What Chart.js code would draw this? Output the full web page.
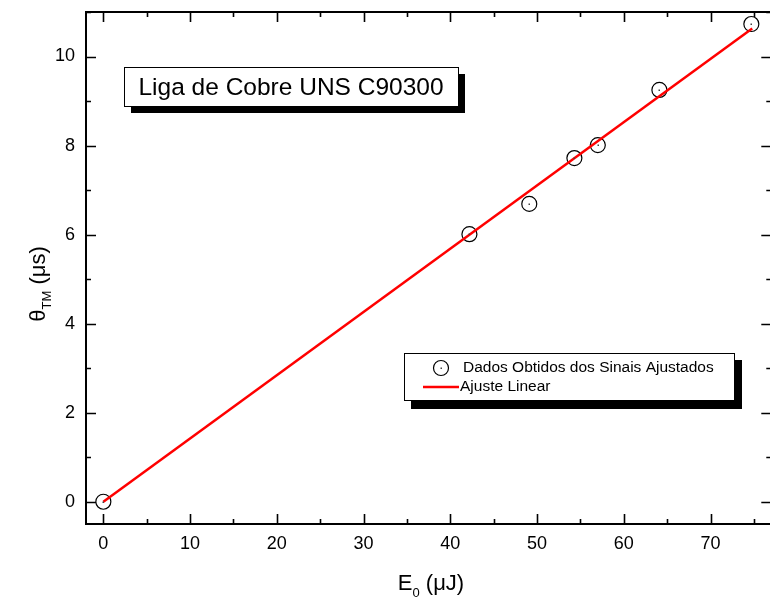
<!DOCTYPE html>
<html>
<head>
<meta charset="utf-8">
<script src="https://cdn.jsdelivr.net/npm/chart.js@4.4.0/dist/chart.umd.min.js"></script>
<style>
  html, body { margin: 0; padding: 0; background: #fff; overflow: hidden; }
  #box { width: 780px; height: 599px; }
</style>
</head>
<body>
<div id="box"><canvas id="grafico" width="780" height="599"></canvas></div>
<script>
// dados
const energia = [0, 42.2, 49.1, 54.3, 57.0, 64.1, 74.7];
const tempo = [0, 6.01, 6.69, 7.72, 8.01, 9.25, 10.73];
const ajusteX = [0, 74.8];
const ajusteY = [0, 10.63];
const ticksX = [0, 10, 20, 30, 40, 50, 60, 70];
const ticksY = [0, 2, 4, 6, 8, 10];
const minorX = [5, 15, 25, 35, 45, 55, 65, 75];
const minorY = [1, 3, 5, 7, 9, 11];

const tituloCaixa = "Liga de Cobre UNS C90300";
const fonte = "'Liberation Sans', Arial, sans-serif";

// desenha ticks para dentro, moldura, caixas e titulos dos eixos
const extras = {
  id: "extras",
  beforeDraw(chart) {
    const ctx = chart.ctx;
    ctx.save();
    ctx.fillStyle = "#fff";
    ctx.fillRect(0, 0, chart.width, chart.height);
    ctx.restore();
  },
  afterDraw(chart) {
    const ctx = chart.ctx;
    const a = chart.chartArea;
    const sx = chart.scales.x, sy = chart.scales.y;
    ctx.save();
    ctx.strokeStyle = "#000";
    ctx.lineWidth = 2;
    ctx.beginPath();
    ctx.moveTo(a.left, a.top); ctx.lineTo(a.right, a.top);
    ctx.moveTo(a.right, a.top); ctx.lineTo(a.right, a.bottom);
    ctx.stroke();

    ctx.lineWidth = 1.6;
    ctx.beginPath();
    const tickX = (v, len) => {
      const p = Math.round(sx.getPixelForValue(v)) + 0.5;
      ctx.moveTo(p, a.bottom); ctx.lineTo(p, a.bottom - len);
      ctx.moveTo(p, a.top); ctx.lineTo(p, a.top + len);
    };
    const tickY = (v, len) => {
      const p = Math.round(sy.getPixelForValue(v)) + 0.5;
      ctx.moveTo(a.left, p); ctx.lineTo(a.left + len, p);
      ctx.moveTo(a.right, p); ctx.lineTo(a.right - len, p);
    };
    ticksX.forEach(v => tickX(v, 10));
    minorX.forEach(v => tickX(v, 5));
    ticksY.forEach(v => tickY(v, 10));
    minorY.forEach(v => tickY(v, 5));
    ctx.stroke();

    // ponto central dos circulos
    const meta = chart.getDatasetMeta(1);
    ctx.fillStyle = "#444";
    meta.data.forEach(pt => {
      ctx.fillRect(Math.round(pt.x) - 0.5, Math.round(pt.y) - 0.5, 1.5, 1.5);
    });

    // caixa do titulo
    ctx.fillStyle = "#000";
    ctx.fillRect(131, 74, 334, 39);
    ctx.fillStyle = "#fff";
    ctx.fillRect(124, 67, 334, 39);
    ctx.lineWidth = 1;
    ctx.strokeStyle = "#000";
    ctx.strokeRect(124.5, 67.5, 334, 39);
    ctx.fillStyle = "#000";
    ctx.font = "24.5px " + fonte;
    ctx.textAlign = "center";
    ctx.textBaseline = "middle";
    ctx.fillText(tituloCaixa, 291, 88);

    // legenda
    ctx.fillRect(411, 360, 331, 49);
    ctx.fillStyle = "#fff";
    ctx.fillRect(404, 353, 331, 48);
    ctx.strokeRect(404.5, 353.5, 330, 47);
    const dsPontos = chart.data.datasets[1];
    const dsLinha = chart.data.datasets[0];
    ctx.strokeStyle = "#000";
    ctx.lineWidth = 1.2;
    ctx.beginPath();
    ctx.arc(441, 368, 7.5, 0, Math.PI * 2);
    ctx.stroke();
    ctx.fillStyle = "#444";
    ctx.fillRect(440.5, 367.5, 1.5, 1.5);
    ctx.strokeStyle = dsLinha.borderColor;
    ctx.lineWidth = 2.5;
    ctx.beginPath();
    ctx.moveTo(423, 387); ctx.lineTo(459, 387);
    ctx.stroke();
    ctx.fillStyle = "#000";
    ctx.font = "15.5px " + fonte;
    ctx.textAlign = "left";
    ctx.fillText(dsPontos.label, 463, 368);
    ctx.fillText(dsLinha.label, 460, 387);

    // titulo eixo x: E0 (uJ)
    ctx.textBaseline = "alphabetic";
    const partesX = [["E", 22, 0], ["0", 13, 7], [" (\u03bcJ)", 22, 0]];
    const partesY = [["\u03b8", 22, 0], ["TM", 13, 6], [" (\u03bcs)", 22, 0]];
    const larg = partes => partes.reduce((s, p) => {
      ctx.font = p[1] + "px " + fonte;
      return s + ctx.measureText(p[0]).width;
    }, 0);
    let x0 = 431 - larg(partesX) / 2;
    partesX.forEach(p => {
      ctx.font = p[1] + "px " + fonte;
      ctx.fillText(p[0], x0, 590 + p[2]);
      x0 += ctx.measureText(p[0]).width;
    });

    ctx.translate(45, 284);
    ctx.rotate(-Math.PI / 2);
    let y0 = -larg(partesY) / 2;
    partesY.forEach(p => {
      ctx.font = p[1] + "px " + fonte;
      ctx.fillText(p[0], y0, p[2]);
      y0 += ctx.measureText(p[0]).width;
    });
    ctx.restore();
  }
};

const semPadding = s => {
  s.paddingTop = 0; s.paddingBottom = 0; s.paddingLeft = 0; s.paddingRight = 0;
};

new Chart(document.getElementById("grafico"), {
  type: "scatter",
  data: {
    datasets: [
      {
        label: "Ajuste Linear",
        type: "line",
        data: ajusteX.map((x, i) => ({ x, y: ajusteY[i] })),
        borderColor: "#ff0000",
        borderWidth: 2.5,
        pointRadius: 0,
        fill: false,
        tension: 0
      },
      {
        label: "Dados Obtidos dos Sinais Ajustados",
        data: energia.map((x, i) => ({ x, y: tempo[i] })),
        pointStyle: "circle",
        pointRadius: 7.5,
        pointBorderWidth: 1.2,
        borderColor: "#000",
        backgroundColor: "rgba(0,0,0,0)"
      }
    ]
  },
  options: {
    responsive: false,
    animation: false,
    layout: { padding: { left: 0, right: 3, top: 12, bottom: 0 } },
    plugins: { legend: { display: false }, tooltip: { enabled: false } },
    scales: {
      x: {
        type: "linear",
        min: -2,
        max: 77,
        afterFit: s => { s.height = 75; semPadding(s); },
        afterBuildTicks: s => { s.ticks = ticksX.map(v => ({ value: v })); },
        grid: { display: false, drawTicks: false },
        border: { display: true, color: "#000", width: 2 },
        ticks: { color: "#000", font: { family: fonte, size: 18 }, padding: 9, maxRotation: 0 }
      },
      y: {
        type: "linear",
        min: -0.5,
        max: 11,
        afterFit: s => { s.width = 86; semPadding(s); },
        afterBuildTicks: s => { s.ticks = ticksY.map(v => ({ value: v })); },
        grid: { display: false, drawTicks: false },
        border: { display: true, color: "#000", width: 2 },
        ticks: { color: "#000", font: { family: fonte, size: 18 }, padding: 11 }
      }
    }
  },
  plugins: [extras]
});
</script>
</body>
</html>
